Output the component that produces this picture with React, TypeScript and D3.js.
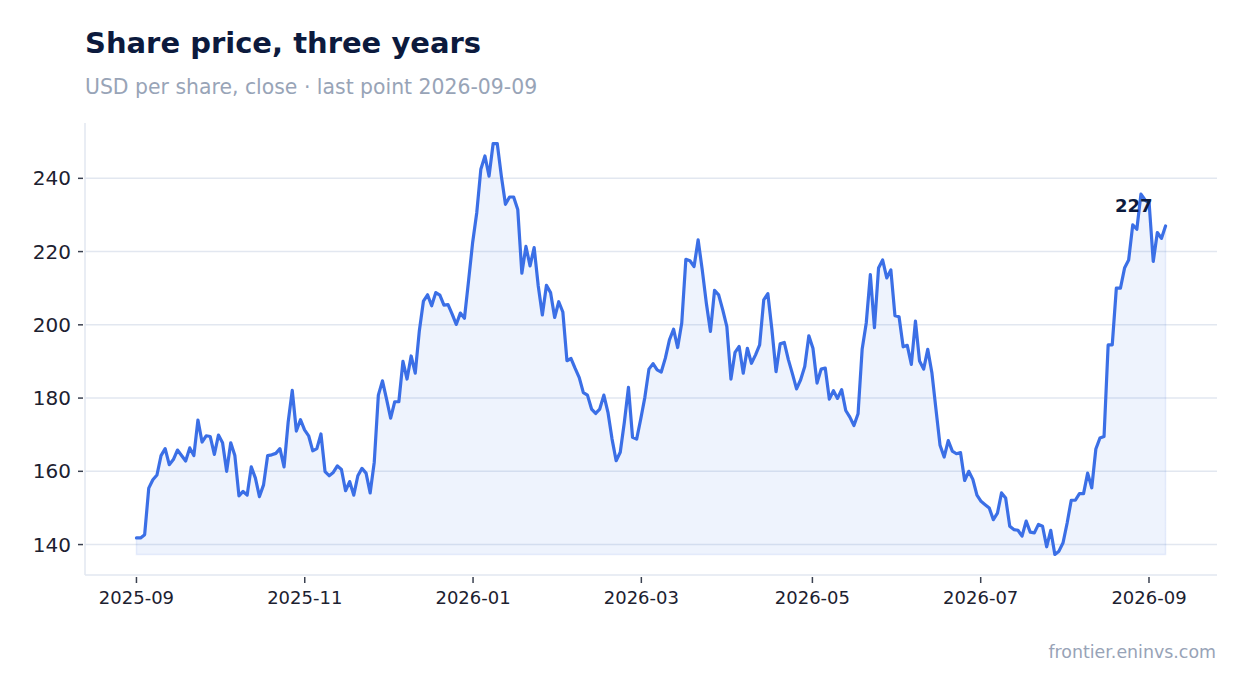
import React from 'react';
import * as d3 from 'd3';

const W = 1247;
const H = 693;

const title = 'Share price, three years';
const subtitle = 'USD per share, close · last point 2026-09-09';
const source = 'frontier.eninvs.com';

// first and last session of the series
const firstDay = '2025-09-01';
const lastDay = '2026-09-09';

// closing prices in order
const closes = [
  141.8, 141.8, 142.7, 155.4, 157.7, 159, 164.3, 166.2, 161.8, 163.2,
  165.8, 164.3, 162.8, 166.4, 164.3, 174, 168, 169.7, 169.5, 164.6,
  169.9, 167.8, 160, 167.8, 164.3, 153.3, 154.5, 153.5, 161.2, 158.2,
  153.1, 156.3, 164.3, 164.5, 164.9, 166.2, 161.2, 173.4, 182.1, 171,
  174.1, 171.3, 169.7, 165.6, 166.2, 170.2, 159.9, 158.8, 159.7, 161.5,
  160.5, 154.7, 157.2, 153.5, 158.8, 160.8, 159.5, 154.1, 162.5, 180.8,
  184.7, 179.7, 174.5, 179, 179, 190, 185.2, 191.5, 186.8, 198.4,
  206.5, 208.2, 205.2, 208.8, 208.1, 205.4, 205.5, 202.9, 200.1, 203.2,
  201.8, 212, 222.5, 230.6, 242.5, 246.1, 240.6, 249.5, 249.5, 240.6,
  232.9, 234.9, 234.9, 231.5, 214.1, 221.4, 216.1, 221.1, 210.6, 202.7,
  210.8, 208.8, 202, 206.3, 203.5, 190.2, 190.8, 188.1, 185.6, 181.5,
  180.8, 177, 175.8, 177, 180.8, 176.1, 168.8, 162.9, 165.2, 173.4,
  182.9, 169.3, 168.8, 174.3, 180.2, 187.9, 189.4, 187.7, 187.1, 190.9,
  195.9, 198.8, 193.8, 200.5, 217.9, 217.5, 215.9, 223.2, 215, 205.9,
  198.2, 209.4, 208.2, 204.1, 199.5, 185.2, 192.5, 194.1, 186.8, 193.6,
  189.5, 191.8, 194.5, 206.8, 208.5, 198.6, 187.2, 194.8, 195.2, 190.5,
  186.6, 182.5, 185, 188.6, 197, 193.6, 184.1, 187.9, 188.2, 179.7,
  182, 179.9, 182.3, 176.6, 174.8, 172.5, 175.7, 193.3, 200.5, 213.7,
  199.2, 215.5, 217.7, 212.8, 215, 202.5, 202.2, 194, 194.4, 189.2,
  201, 190.1, 187.9, 193.3, 187, 177, 167.1, 163.9, 168.4, 165.5,
  164.8, 165.1, 157.5, 160, 157.8, 153.5, 151.8, 150.9, 150, 146.8,
  148.6, 154.1, 152.7, 145, 144.1, 143.9, 142.3, 146.4, 143.4, 143.2,
  145.5, 145, 139.4, 143.9, 137.3, 138.2, 140.5, 145.9, 152.1, 152.1,
  153.9, 153.9, 159.5, 155.5, 166.1, 169.1, 169.5, 194.5, 194.5, 210,
  210, 215.5, 217.7, 227.3, 226.1, 235.7, 234.1, 233.2, 217.3, 225.2,
  223.6, 227
];

const yTicks = [140, 160, 180, 200, 220, 240];
const xTickDates = ['2025-09-01', '2025-11-01', '2026-01-01', '2026-03-03', '2026-05-04', '2026-07-04', '2026-09-03'];
const xTickLabels = ['2025-09', '2025-11', '2026-01', '2026-03', '2026-05', '2026-07', '2026-09'];

const App: React.FC = () => {
  const margin = { top: 123, right: 30, bottom: 118, left: 85 };
  const x0 = margin.left;
  const x1 = W - margin.right;
  const y0 = H - margin.bottom;
  const y1 = margin.top;

  const parse = d3.utcParse('%Y-%m-%d');
  const t0 = parse(firstDay) as Date;
  const t1 = parse(lastDay) as Date;
  const step = (+t1 - +t0) / (closes.length - 1);
  const data = closes.map((v, i) => ({ date: new Date(+t0 + i * step), value: v }));

  // 5% padding on both axes
  const span = +t1 - +t0;
  const x = d3.scaleUtc()
    .domain([new Date(+t0 - span * 0.05), new Date(+t1 + span * 0.05)])
    .range([x0, x1]);

  const [lo, hi] = d3.extent(closes) as [number, number];
  const pad = (hi - lo) * 0.05;
  const y = d3.scaleLinear().domain([lo - pad, hi + pad]).range([y0, y1]);

  const line = d3.line<{ date: Date; value: number }>()
    .x(d => x(d.date))
    .y(d => y(d.value));

  const area = d3.area<{ date: Date; value: number }>()
    .x(d => x(d.date))
    .y0(y(lo))
    .y1(d => y(d.value));

  const blue = '#3b6fe6';
  const grid = '#e2e7f0';
  const last = data[data.length - 1];

  return (
    <svg width={W} height={H} style={{ position: 'absolute', left: 0, top: 0, fontFamily: 'DejaVu Sans, sans-serif' }}>
      <rect width={W} height={H} fill="#fff" />

      <text x={85} y={53} fontSize={29} fontWeight="bold" fill="#0c1a3d">{title}</text>
      <text x={85} y={94} fontSize={20.4} fill="#98a4b7">{subtitle}</text>

      {/* grid */}
      {yTicks.map(t => (
        <line key={t} x1={x0} x2={x1} y1={y(t)} y2={y(t)} stroke={grid} strokeWidth={1.5} />
      ))}
      <line x1={x0} x2={x0} y1={y1} y2={y0} stroke={grid} strokeWidth={1.5} />
      <line x1={x0} x2={x1} y1={y0} y2={y0} stroke={grid} strokeWidth={1.5} />

      {/* series */}
      <path d={area(data) as string} fill={blue} fillOpacity={0.085} stroke={blue} strokeOpacity={0.1} strokeWidth={1.5} />
      <path d={line(data) as string} fill="none" stroke={blue} strokeWidth={3.2} strokeLinejoin="round" strokeLinecap="round" />

      {/* y axis */}
      {yTicks.map(t => (
        <g key={t} transform={`translate(0,${y(t)})`}>
          <line x1={78} x2={83} stroke="#3a4150" strokeWidth={1.5} />
          <text x={71} dy="0.35em" textAnchor="end" fontSize={20} fill="#1c2130">{t}</text>
        </g>
      ))}

      {/* x axis */}
      {xTickDates.map((d, i) => {
        const px = x(parse(d) as Date);
        return (
          <g key={d} transform={`translate(${px},0)`}>
            <line y1={577} y2={583} stroke="#3a4150" strokeWidth={1.5} />
            <text y={604} textAnchor="middle" fontSize={18} fill="#1c2130">{xTickLabels[i]}</text>
          </g>
        );
      })}

      {/* last value */}
      <text x={x(last.date) - 13} y={y(last.value) - 14} textAnchor="end" fontSize={18} fontWeight="bold" fill="#0c1a3d">
        {d3.format('.0f')(last.value)}
      </text>

      <text x={1216} y={658} textAnchor="end" fontSize={17.4} fill="#98a3b7">{source}</text>
    </svg>
  );
};

export default App;
